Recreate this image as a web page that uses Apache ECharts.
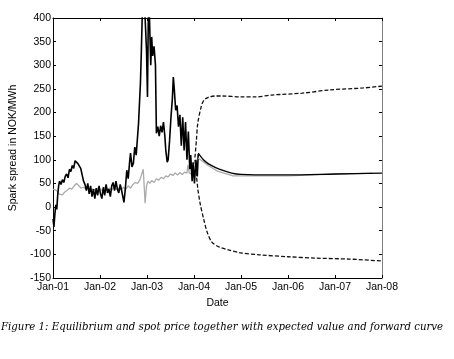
<!DOCTYPE html>
<html>
<head>
<meta charset="utf-8">
<script src="https://cdn.jsdelivr.net/npm/echarts@6/dist/echarts.min.js"></script>
<style>
html,body{margin:0;padding:0;background:#fff;}
#chart{width:454px;height:359px;}
</style>
</head>
<body>
<div id="chart"></div>
<script>
// x tick labels (years)
const yearTicks = [2001, 2002, 2003, 2004, 2005, 2006, 2007, 2008];
const yearLabels = ['Jan-01','Jan-02','Jan-03','Jan-04','Jan-05','Jan-06','Jan-07','Jan-08'];

// Spot price (black), [year, NOK/MWh]
const spot = [
[2001.00,-25],[2001.02,-42],[2001.04,-15],[2001.06,5],[2001.08,-5],[2001.10,25],[2001.12,45],[2001.14,55],
[2001.17,48],[2001.20,58],[2001.23,52],[2001.26,65],[2001.29,70],[2001.32,62],[2001.35,80],[2001.38,75],
[2001.41,88],[2001.44,82],[2001.47,98],[2001.50,100],[2001.53,92],[2001.56,96],[2001.59,82],[2001.62,86],
[2001.65,55],[2001.68,48],[2001.71,35],[2001.74,50],[2001.77,28],[2001.80,45],[2001.83,22],[2001.86,38],
[2001.89,18],[2001.92,40],[2001.95,25],[2001.98,45],[2002.01,28],[2002.04,18],[2002.07,42],[2002.10,25],
[2002.13,48],[2002.16,30],[2002.19,38],[2002.22,22],[2002.25,45],[2002.28,52],[2002.31,35],[2002.34,55],
[2002.37,38],[2002.40,30],[2002.43,48],[2002.46,35],[2002.49,20],[2002.51,10],[2002.54,40],[2002.57,78],
[2002.60,60],[2002.63,95],[2002.65,114],[2002.68,85],[2002.71,93],[2002.74,127],[2002.77,110],[2002.80,150],
[2002.82,177],[2002.84,220],[2002.86,262],[2002.88,330],[2002.90,410],[2002.93,420],[2002.96,400],[2002.99,330],
[2003.01,233],[2003.03,420],[2003.05,410],[2003.08,300],[2003.10,360],[2003.12,320],[2003.15,340],[2003.18,300],
[2003.20,156],[2003.23,170],[2003.26,150],[2003.29,172],[2003.32,158],[2003.35,180],[2003.38,150],[2003.40,120],
[2003.43,95],[2003.45,100],[2003.48,140],[2003.51,190],[2003.54,230],[2003.56,275],[2003.58,250],[2003.61,205],
[2003.64,215],[2003.67,170],[2003.70,195],[2003.73,130],[2003.76,190],[2003.79,120],[2003.82,180],[2003.85,100],
[2003.88,160],[2003.91,80],[2003.93,110],[2003.96,55],[2003.98,95],[2004.01,50],[2004.04,100],[2004.07,65],[2004.09,112]
];

// Equilibrium price (grey)
const equilibrium = [
[2001.00,38],[2001.04,42],[2001.08,35],[2001.12,28],[2001.16,30],[2001.20,26],[2001.25,32],[2001.30,35],
[2001.35,40],[2001.40,38],[2001.45,45],[2001.50,50],[2001.55,45],[2001.60,40],[2001.65,42],[2001.70,38],
[2001.75,40],[2001.80,35],[2001.85,38],[2001.90,36],[2001.95,40],[2002.00,38],[2002.05,35],[2002.10,42],
[2002.15,38],[2002.20,40],[2002.25,36],[2002.30,42],[2002.35,38],[2002.40,40],[2002.45,36],[2002.50,42],
[2002.55,38],[2002.60,45],[2002.65,40],[2002.70,48],[2002.75,52],[2002.80,50],[2002.85,58],[2002.89,55],
[2002.92,80],[2002.96,8],[2002.99,45],[2003.02,55],[2003.06,50],[2003.10,56],[2003.15,52],[2003.20,60],
[2003.25,57],[2003.30,63],[2003.35,60],[2003.40,66],[2003.45,64],[2003.50,70],[2003.55,67],[2003.60,72],
[2003.65,68],[2003.70,73],[2003.75,69],[2003.80,74],[2003.85,72],[2003.87,89],[2003.90,72],[2003.95,70],
[2004.00,68],[2004.03,72]
];

// Expected value (black solid)
const expected = [
[2004.09,114],[2004.20,100],[2004.30,92],[2004.45,84],[2004.60,78],[2004.80,72],[2005.00,69],
[2005.30,68],[2006.00,68],[2007.00,70],[2008.00,72]
];

// Forward curve (grey)
const forward = [
[2004.09,104],[2004.30,88],[2004.50,76],[2004.83,66],[2006.00,66],[2006.00,69],[2006.82,69],[2006.82,72],[2007.80,72]
];

// Confidence bands (dashed)
const upperBand = [
[2004.02,105],[2004.05,140],[2004.08,177],[2004.15,211],[2004.21,226],[2004.32,233],[2004.45,235],[2004.60,235],
[2005.00,233],[2005.30,233],[2005.65,237],[2006.30,241],[2006.90,248],[2007.60,252],[2008.00,256]
];
const lowerBand = [
[2004.02,100],[2004.08,40],[2004.13,8],[2004.21,-27],[2004.28,-53],[2004.38,-74],[2004.53,-84],[2004.75,-91],
[2005.00,-97],[2005.40,-101],[2006.00,-105],[2006.60,-108],[2007.30,-110],[2008.00,-114]
];

const caption = 'Figure 1: Equilibrium and spot price together with expected value and forward curve';

const chart = echarts.init(document.getElementById('chart'), null, {renderer:'canvas'});
const font = '"Liberation Sans Narrow", "Liberation Sans", sans-serif';
const xLab = v => { const i = yearTicks.indexOf(Math.round(v)); return i >= 0 ? yearLabels[i] : ''; };

chart.setOption({
  animation: false,
  backgroundColor: '#fff',
  grid: {left: 53, right: 72, top: 18, bottom: 81, containLabel: false},
  xAxis: [{
    type: 'value', min: 2001, max: 2008, interval: 1, position: 'bottom',
    name: 'Date', nameLocation: 'middle', nameGap: 17,
    nameTextStyle: {fontFamily: font, fontSize: 10.5, color: '#000'},
    axisLine: {show: true, onZero: false, lineStyle: {color: '#000', width: 1}},
    axisTick: {show: true, inside: true, length: 3, lineStyle: {color: '#000'}},
    axisLabel: {formatter: xLab, fontFamily: font, fontSize: 10.5, color: '#000', margin: 4},
    splitLine: {show: false}
  },{
    type: 'value', min: 2001, max: 2008, interval: 1, position: 'top',
    axisLine: {show: true, onZero: false, lineStyle: {color: '#000', width: 1}},
    axisTick: {show: true, inside: true, length: 3, lineStyle: {color: '#000'}},
    axisLabel: {show: false}, splitLine: {show: false}
  }],
  yAxis: [{
    type: 'value', min: -150, max: 400, interval: 50, position: 'left',
    name: 'Spark spread in NOK/MWh', nameLocation: 'middle', nameGap: 24,
    nameTextStyle: {fontFamily: font, fontSize: 10.5, color: '#000'},
    axisLine: {show: true, onZero: false, lineStyle: {color: '#000', width: 1}},
    axisTick: {show: true, inside: true, length: 3, lineStyle: {color: '#000'}},
    axisLabel: {fontFamily: font, fontSize: 10.5, color: '#000', margin: 2},
    splitLine: {show: false}
  },{
    type: 'value', min: -150, max: 400, interval: 50, position: 'right',
    axisLine: {show: true, onZero: false, lineStyle: {color: '#808080', width: 1}},
    axisTick: {show: true, inside: true, length: 3, lineStyle: {color: '#000'}},
    axisLabel: {show: false}, splitLine: {show: false}
  }],
  series: [
    {type: 'line', data: equilibrium, showSymbol: false, symbol: 'none', lineStyle: {color: '#aaaaaa', width: 1.3}, clip: true},
    {type: 'line', data: spot, showSymbol: false, symbol: 'none', lineStyle: {color: '#000', width: 1.6}, clip: true},
    {type: 'line', data: forward, showSymbol: false, symbol: 'none', lineStyle: {color: '#aaaaaa', width: 1.3}, clip: true},
    {type: 'line', data: expected, showSymbol: false, symbol: 'none', smooth: 0.3, lineStyle: {color: '#000', width: 1.3}, clip: true},
    {type: 'line', data: upperBand, showSymbol: false, symbol: 'none', smooth: 0.3, lineStyle: {color: '#111', width: 1.3, type: [4, 2]}, clip: true},
    {type: 'line', data: lowerBand, showSymbol: false, symbol: 'none', smooth: 0.3, lineStyle: {color: '#111', width: 1.3, type: [4, 2]}, clip: true}
  ],
  graphic: [{
    type: 'text', left: 1, top: 322,
    style: {text: caption, font: 'italic 10.2px "DejaVu Serif"', fill: '#000'}
  }]
});
</script>
</body>
</html>
